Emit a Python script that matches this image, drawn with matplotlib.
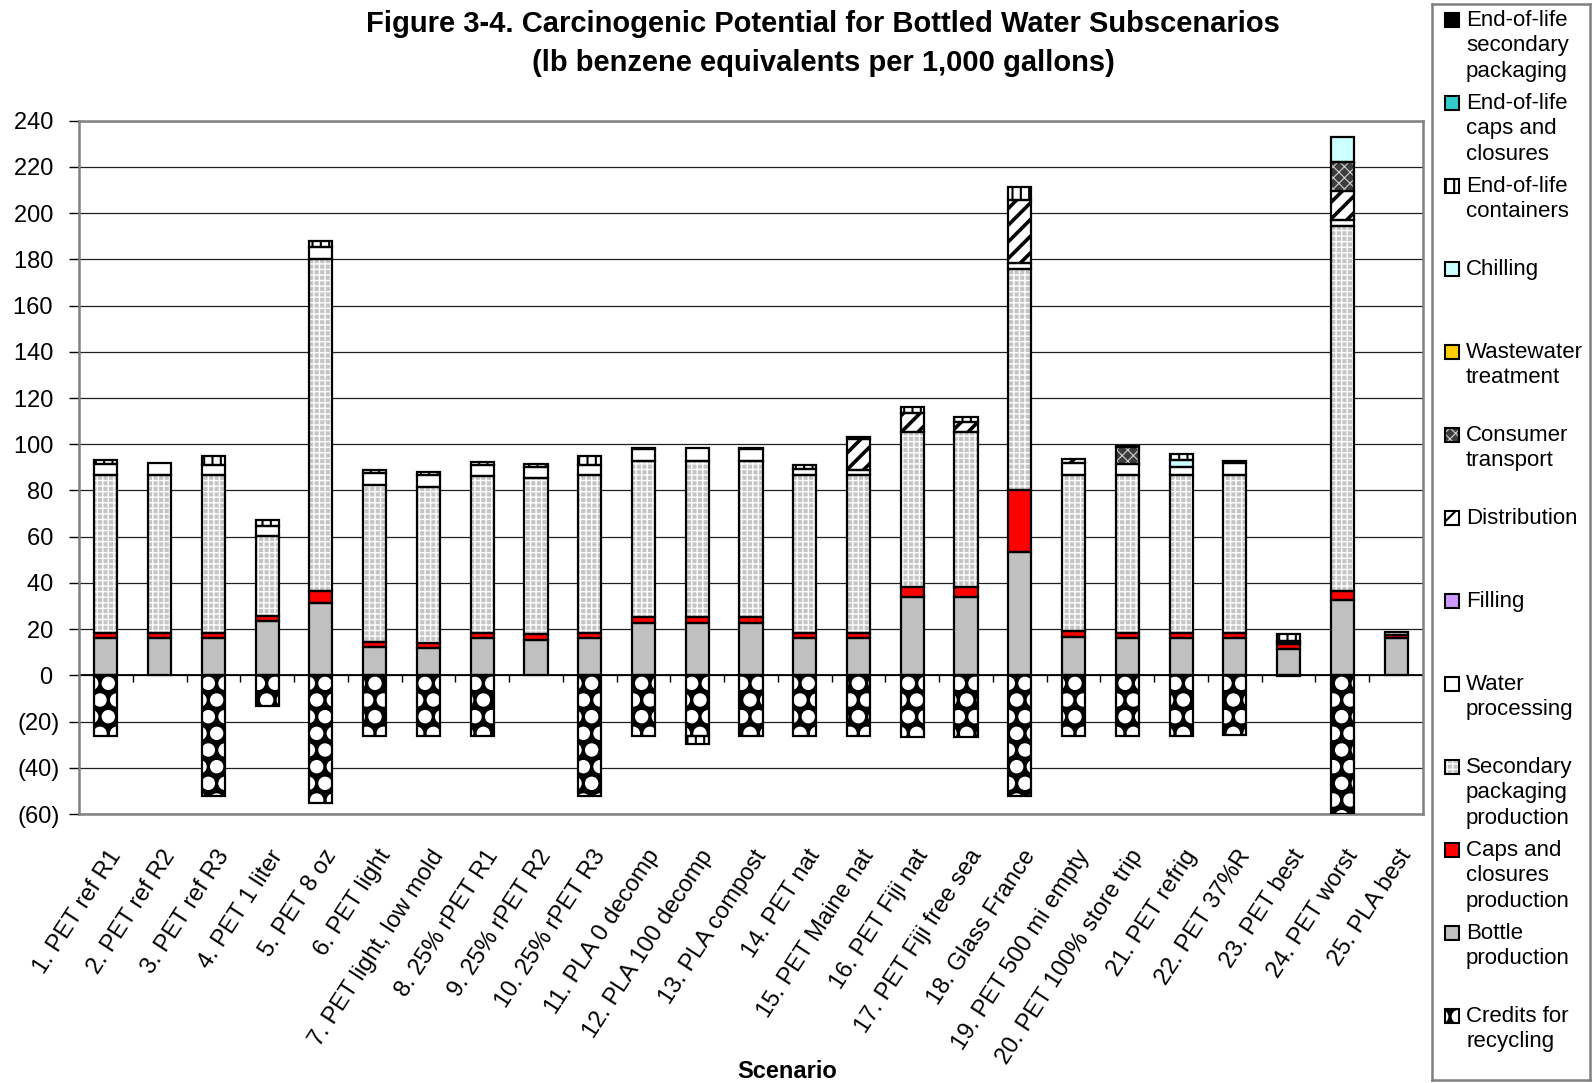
import matplotlib
matplotlib.use('Agg')
import matplotlib.hatch
import matplotlib.pyplot as plt
import numpy as np
from matplotlib.patches import Rectangle
from matplotlib.ticker import FuncFormatter, MultipleLocator
from matplotlib.transforms import ScaledTranslation

plt.rcParams['font.family'] = ['Liberation Sans', 'DejaVu Sans']
plt.rcParams['font.size'] = 17

# larger filled dots for the recycling-credit fill pattern
matplotlib.hatch.SmallFilledCircles.size = 0.36

scenarios = [
    '1. PET ref R1', '2. PET ref R2', '3. PET ref R3', '4. PET 1 liter',
    '5. PET 8 oz', '6. PET light', '7. PET light, low mold', '8. 25% rPET R1',
    '9. 25% rPET R2', '10. 25% rPET R3', '11. PLA 0 decomp',
    '12. PLA 100 decomp', '13. PLA compost', '14. PET nat',
    '15. PET Maine nat', '16. PET Fiji nat', '17. PET Fiji free sea',
    '18. Glass France', '19. PET 500 mi empty', '20. PET 100% store trip',
    '21. PET refrig', '22. PET 37%R', '23. PET best', '24. PET worst',
    '25. PLA best',
]

# lb benzene eq per 1,000 gallons, one value per scenario
credits = [-26.4, 0, -52.3, -13.4, -55.4, -26.4, -26.4, -26.4, 0, -52.3,
           -26.4, -26.4, -26.4, -26.4, -26.4, -26.8, -26.8, -52.3, -26.4, -26.4,
           -26.4, -26.0, -0.5, -59.8, 0]
bottle = [16, 16, 16, 23.6, 31.5, 12.2, 11.7, 16, 15.5, 16,
          22.8, 22.8, 22.8, 16, 16, 33.8, 33.8, 53.2, 16.5, 16,
          16, 16.3, 11.5, 32.8, 16]
caps = [2.5, 2.5, 2.5, 2.2, 4.8, 2.3, 2.3, 2.3, 2.3, 2.5,
        2.5, 2.5, 2.5, 2.5, 2.5, 4.3, 4.3, 26.8, 2.5, 2.5,
        2.5, 2.2, 2.0, 3.9, 1.5]
sec_pack = [68.3, 68.3, 68.3, 34.3, 143.8, 67.7, 67.7, 68.0, 67.7, 68.3,
            67.4, 67.4, 67.4, 68.3, 68.3, 67.4, 67.4, 95.7, 67.8, 68.3,
            68.3, 68.0, 0.5, 157.7, 1.2]
water = [4.5, 5.0, 4.3, 4.6, 5.3, 5.2, 4.9, 4.7, 4.8, 4.3,
         5.3, 5.6, 5.3, 2.7, 2.0, 0, 0, 2.6, 5.0, 4.5,
         3.5, 5.2, 1.0, 2.5, 0]
filling = [0] * 25
distribution = [0, 0, 0, 0, 0, 0, 0, 0, 0, 0,
                0, 0, 0, 0, 13.6, 8.0, 4.1, 27.4, 2.0, 0,
                0, 0, 0, 12.5, 0]
consumer = [0, 0, 0, 0, 0, 0, 0, 0, 0, 0,
            0, 0, 0, 0, 0, 0, 0, 0, 0, 7.3,
            0, 0, 0, 12.6, 0]
wastewater = [0] * 25
chilling = [0, 0, 0, 0, 0, 0, 0, 0, 0, 0,
            0, 0, 0, 0, 0, 0, 0, 0, 0, 0,
            3.0, 0, 0, 11.0, 0]
eol_containers = [1.8, 0, 3.9, 2.6, 2.6, 1.3, 1.3, 1.5, 1.0, 3.9,
                  0.5, -3.5, 0.5, 1.5, 0.9, 2.4, 2.4, 5.5, 0, 0.6,
                  2.4, 0.9, 3.0, 0, 0]
eol_caps = [0] * 25
eol_secondary = [0] * 25

# stacking order, bottom first: label, values, face, hatch, hatch colour, hatch width
series = [
    ('Credits for\nrecycling', credits, 'black', '.', 'white', 1.0),
    ('Bottle\nproduction', bottle, '#c0c0c0', None, None, 1.0),
    ('Caps and\nclosures\nproduction', caps, '#ff0000', None, None, 1.0),
    ('Secondary\npackaging\nproduction', sec_pack, '#c4c4c4', '+++', 'white', 1.0),
    ('Water\nprocessing', water, 'white', None, None, 1.0),
    ('Filling', filling, '#cc99ff', None, None, 1.0),
    ('Distribution', distribution, 'white', '//', 'black', 2.6),
    ('Consumer\ntransport', consumer, '#3c3c3c', 'xxx', '#d0d0d0', 0.8),
    ('Wastewater\ntreatment', wastewater, '#ffcc00', None, None, 1.0),
    ('Chilling', chilling, '#ccffff', None, None, 1.0),
    ('End-of-life\ncontainers', eol_containers, 'white', '||', 'black', 1.5),
    ('End-of-life\ncaps and\nclosures', eol_caps, '#33cccc', None, None, 1.0),
    ('End-of-life\nsecondary\npackaging', eol_secondary, 'black', None, None, 1.0),
]

W, H = 1593, 1083
fig = plt.figure(figsize=(W / 100, H / 100), dpi=100)
ax = fig.add_axes([79 / W, 1 - 814 / H, (1423 - 79) / W, (814 - 120.7) / H])

x = np.arange(len(scenarios))
width = 0.43


def set_hatch_width(patches, lw):
    for p in patches:
        if hasattr(p, 'set_hatch_linewidth'):
            p.set_hatch_linewidth(lw)


pos_base = np.zeros(len(x))
neg_base = np.zeros(len(x))
for label, vals, face, hatch, hcolor, hlw in series:
    v = np.array(vals, dtype=float)
    keep = v != 0
    bottoms = np.where(v >= 0, pos_base, neg_base)
    if keep.any():
        with plt.rc_context({'hatch.linewidth': hlw}):
            fill = ax.bar(x[keep], v[keep], width, bottom=bottoms[keep],
                          color=face, edgecolor=hcolor or face, hatch=hatch,
                          linewidth=0, zorder=2)
        set_hatch_width(fill, hlw)
        ax.bar(x[keep], v[keep], width, bottom=bottoms[keep], fill=False,
               edgecolor='black', linewidth=1.6, zorder=3)
    pos_base += np.clip(v, 0, None)
    neg_base += np.clip(v, None, 0)

ax.set_xlim(-0.5, len(x) - 0.5)
ax.set_ylim(-60, 240)
ax.yaxis.set_major_locator(MultipleLocator(20))
# accounting style: negatives in brackets, positives padded to line up
ax.yaxis.set_major_formatter(FuncFormatter(
    lambda v, _: f'({abs(int(round(v)))})' if v < 0 else f'{int(round(v))} '))
ax.yaxis.grid(True, color='#202020', linewidth=0.9)
ax.set_axisbelow(True)
ax.axhline(0, color='black', linewidth=1.3, zorder=1.5)
# category tick marks sit on the zero line, between the bars
ax.vlines(np.arange(0.5, len(x) - 0.5), -3, 0, color='black', linewidth=1.0,
          zorder=1.5)

for sp in ax.spines.values():
    sp.set_color('#808080')
    sp.set_linewidth(1.8)

ax.tick_params(axis='y', direction='out', length=7, width=1, color='black',
               pad=7, labelsize=17)
ax.set_xticks(x)
ax.set_xticklabels(scenarios, rotation=57, ha='right', rotation_mode='anchor',
                   fontsize=17)
ax.tick_params(axis='x', length=0, pad=23)
shift = ScaledTranslation(0.02, 0, fig.dpi_scale_trans)
for lbl in ax.get_xticklabels():
    lbl.set_transform(lbl.get_transform() + shift)

fig.text(823 / W, 1 - 24.5 / H,
         'Figure 3-4. Carcinogenic Potential for Bottled Water Subscenarios',
         ha='center', va='center', fontsize=21, fontweight='bold')
fig.text(823 / W, 1 - 63 / H, '(lb benzene equivalents per 1,000 gallons)',
         ha='center', va='center', fontsize=21, fontweight='bold')
fig.text(787 / W, 1 - 1071 / H, 'Scenario', ha='center', va='center',
         fontsize=17, fontweight='bold')

# legend box, drawn in pixel units of the figure
lax = fig.add_axes([1432 / W, (H - 1080) / H, 158 / W, (1080 - 4) / H])
lax.set_xlim(0, 158)
lax.set_ylim(1080, 4)
lax.set_xticks([])
lax.set_yticks([])
for sp in lax.spines.values():
    sp.set_color('#808080')
    sp.set_linewidth(1.8)

for i, (label, vals, face, hatch, hcolor, hlw) in enumerate(reversed(series)):
    y0 = 20.3 + 83.0 * i
    with plt.rc_context({'hatch.linewidth': min(hlw, 1.5)}):
        sw = Rectangle((13, y0 - 7), 14, 14, facecolor=face,
                       edgecolor=hcolor or face, hatch=hatch, linewidth=0)
    set_hatch_width([sw], min(hlw, 1.5))
    lax.add_patch(sw)
    lax.add_patch(Rectangle((13, y0 - 7), 14, 14, fill=False,
                            edgecolor='black', linewidth=1.5))
    for j, line in enumerate(label.split('\n')):
        lax.text(34, y0 + 25.4 * j, line, ha='left', va='center', fontsize=16)

fig.savefig('out.png', dpi=100, facecolor='white')
